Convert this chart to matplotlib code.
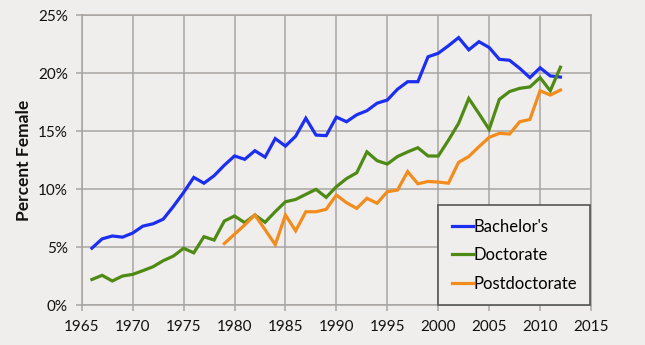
import matplotlib
matplotlib.use("Agg")
import matplotlib.pyplot as plt
from matplotlib.ticker import FuncFormatter

years_bach = list(range(1966, 2013))
bachelors = [4.9, 5.7, 5.95, 5.85, 6.2, 6.8, 7.0, 7.4, 8.5, 9.7, 11.0, 10.5, 11.15, 12.05,
             12.85, 12.56, 13.3, 12.75, 14.35, 13.7, 14.55, 16.1, 14.65, 14.6, 16.2, 15.8,
             16.4, 16.75, 17.4, 17.67, 18.6, 19.25, 19.25, 21.4, 21.7, 22.35, 23.05, 22.0,
             22.7, 22.2, 21.18, 21.1, 20.4, 19.6, 20.45, 19.75, 19.65]

years_doc = list(range(1966, 2013))
doctorate = [2.2, 2.56, 2.07, 2.5, 2.64, 2.96, 3.3, 3.82, 4.22, 4.89, 4.5, 5.89, 5.6, 7.24,
             7.67, 7.1, 7.76, 7.13, 8.05, 8.9, 9.1, 9.54, 9.97, 9.28, 10.2, 10.9, 11.4, 13.2,
             12.44, 12.15, 12.8, 13.2, 13.56, 12.85, 12.84, 14.2, 15.66, 17.8, 16.5, 15.14,
             17.73, 18.4, 18.68, 18.8, 19.6, 18.47, 20.5]

years_post = list(range(1979, 2013))
postdoc = [5.3, 6.1, 6.9, 7.76, 6.5, 5.2, 7.76, 6.4, 8.04, 8.04, 8.25, 9.48, 8.82, 8.33,
           9.2, 8.77, 9.77, 9.91, 11.5, 10.45, 10.65, 10.6, 10.5, 12.3, 12.8, 13.65, 14.45,
           14.8, 14.74, 15.8, 16.0, 18.47, 18.1, 18.53]

series_names = ["Bachelor's", "Doctorate", "Postdoctorate"]
x_ticks = list(range(1965, 2016, 5))
y_ticks = [0, 5, 10, 15, 20, 25]

BG = "#efeeec"
GRID = "#a8a4a2"
colors = ["#1c2ef0", "#4e8a14", "#f28c1c"]

plt.rcParams['font.family'] = ['Lato', 'DejaVu Sans']

fig = plt.figure(figsize=(6.45, 3.45), dpi=100, facecolor=BG)
ax = fig.add_axes([0.1267, 0.1159, 0.7896, 0.8406])
ax.set_facecolor(BG)

lw = 2.3
ax.plot(years_bach, bachelors, color=colors[0], lw=lw, label=series_names[0], solid_joinstyle='miter')
ax.plot(years_doc, doctorate, color=colors[1], lw=lw, label=series_names[1], solid_joinstyle='miter')
ax.plot(years_post, postdoc, color=colors[2], lw=lw, label=series_names[2], solid_joinstyle='miter')

ax.set_xlim(1965, 2015)
ax.set_ylim(0, 25)
ax.set_xticks(x_ticks)
ax.set_yticks(y_ticks)
ax.yaxis.set_major_formatter(FuncFormatter(lambda v, p: f"{int(v)}%"))
ax.grid(True, color=GRID, lw=1.1)
ax.set_axisbelow(True)
for s in ax.spines.values():
    s.set_color(GRID)
    s.set_linewidth(1.1)
ax.tick_params(axis='both', colors=GRID, length=4, width=1.1, labelsize=11, labelcolor="#111111")
ax.tick_params(axis='y', pad=6)
ax.tick_params(axis='x', pad=7)

ax.set_ylabel("Percent Female", fontsize=12.5, fontweight='bold', color="#111111", labelpad=4)

leg = ax.legend(loc='lower right', bbox_to_anchor=(0.9985, 0.0), frameon=True, fancybox=False,
                fontsize=12, handlelength=1.3, handletextpad=0.0, labelspacing=0.75,
                borderpad=0.8, borderaxespad=0.0)
leg.get_frame().set_facecolor(BG)
leg.get_frame().set_edgecolor("#555555")
leg.get_frame().set_linewidth(1.2)
leg.get_frame().set_alpha(1.0)

fig.savefig("out.png", dpi=100, facecolor=BG)
